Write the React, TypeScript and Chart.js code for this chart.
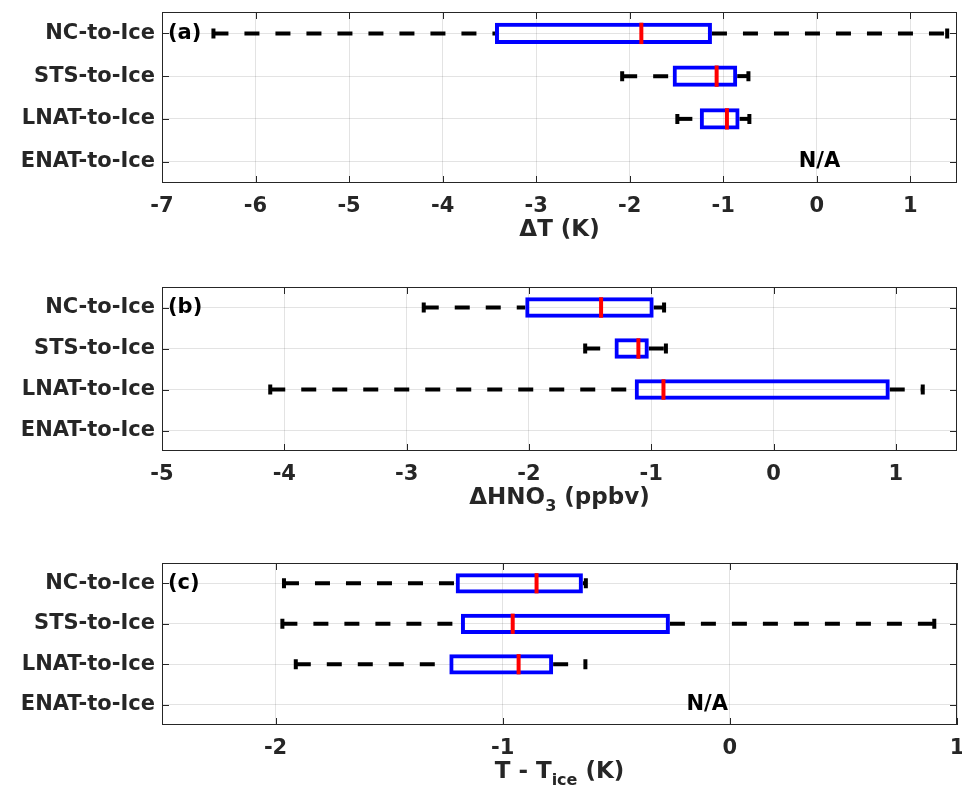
import React, { useEffect, useRef } from 'react';
import { Chart, registerables } from 'chart.js';

Chart.register(...registerables);

const categories = ['NC-to-Ice', 'STS-to-Ice', 'LNAT-to-Ice', 'ENAT-to-Ice'];

// (a) ΔT (K)
const dtMin = [-6.45, -2.08, -1.49, null];
const dtQ1 = [-3.44, -1.54, -1.25, null];
const dtMedian = [-1.875, -1.07, -0.96, null];
const dtQ3 = [-1.12, -0.85, -0.825, null];
const dtMax = [1.395, -0.73, -0.72, null];

// (b) ΔHNO3 (ppbv)
const hno3Min = [-2.86, -1.54, -4.115, null];
const hno3Q1 = [-2.03, -1.3, -1.135, null];
const hno3Median = [-1.41, -1.105, -0.9, null];
const hno3Q3 = [-0.98, -1.02, 0.95, null];
const hno3Max = [-0.895, -0.88, 1.22, null];

// (c) T - Tice (K)
const tiMin = [-1.963, -1.97, -1.911, null];
const tiQ1 = [-1.207, -1.184, -1.235, null];
const tiMedian = [-0.851, -0.956, -0.93, null];
const tiQ3 = [-0.647, -0.264, -0.778, null];
const tiMax = [-0.634, 0.9, -0.636, null];

const FONT = '"DejaVu Sans", sans-serif';
const TEXT = '#262626';

type TitlePart = { text: string; sub?: boolean };

type Panel = {
  id: string;
  top: number;
  height: number;
  padTop: number;
  axisHeight: number;
  xMin: number;
  xMax: number;
  mins: (number | null)[];
  q1: (number | null)[];
  medians: (number | null)[];
  q3: (number | null)[];
  maxs: (number | null)[];
  tag: string;
  naAt: number | null;
  title: TitlePart[];
};

const panels: Panel[] = [
  {
    id: 'a', top: 0, height: 262, padTop: 12, axisHeight: 79,
    xMin: -7, xMax: 1.5,
    mins: dtMin, q1: dtQ1, medians: dtMedian, q3: dtQ3, maxs: dtMax,
    tag: '(a)', naAt: 0.03,
    title: [{ text: '\u0394T (K)' }],
  },
  {
    id: 'b', top: 262, height: 273, padTop: 25, axisHeight: 84,
    xMin: -5, xMax: 1.5,
    mins: hno3Min, q1: hno3Q1, medians: hno3Median, q3: hno3Q3, maxs: hno3Max,
    tag: '(b)', naAt: null,
    title: [{ text: '\u0394HNO' }, { text: '3', sub: true }, { text: ' (ppbv)' }],
  },
  {
    id: 'c', top: 535, height: 258, padTop: 28, axisHeight: 68,
    xMin: -2.5, xMax: 1,
    mins: tiMin, q1: tiQ1, medians: tiMedian, q3: tiQ3, maxs: tiMax,
    tag: '(c)', naAt: -0.1,
    title: [{ text: 'T - T' }, { text: 'ice', sub: true }, { text: ' (K)' }],
  },
];

function makeDecor(p: Panel) {
  return {
    id: 'boxDecor' + p.id,
    beforeDatasetsDraw(chart: any) {
      const { ctx } = chart;
      const xs = chart.scales.x;
      const ys = chart.scales.y;
      ctx.save();
      // whiskers: dashed lines from box edges to the extremes, with end caps
      ctx.strokeStyle = '#000';
      ctx.lineWidth = 4;
      ctx.lineCap = 'butt';
      p.mins.forEach((mn, i) => {
        if (mn == null) return;
        const y = ys.getPixelForValue(i);
        const pMin = xs.getPixelForValue(mn);
        const pQ1 = xs.getPixelForValue(p.q1[i] as number);
        const pQ3 = xs.getPixelForValue(p.q3[i] as number);
        const pMax = xs.getPixelForValue(p.maxs[i] as number);
        ctx.setLineDash([15, 16]);
        ctx.beginPath();
        ctx.moveTo(pMin, y);
        ctx.lineTo(pQ1, y);
        ctx.stroke();
        ctx.beginPath();
        ctx.moveTo(pQ3, y);
        ctx.lineTo(pMax, y);
        ctx.stroke();
        ctx.setLineDash([]);
        ctx.beginPath();
        ctx.moveTo(pMin, y - 5);
        ctx.lineTo(pMin, y + 5);
        ctx.moveTo(pMax, y - 5);
        ctx.lineTo(pMax, y + 5);
        ctx.stroke();
      });
      ctx.restore();
    },
    afterDatasetsDraw(chart: any) {
      const { ctx, chartArea } = chart;
      const xs = chart.scales.x;
      const ys = chart.scales.y;
      const meta = chart.getDatasetMeta(0);
      ctx.save();
      // medians
      ctx.strokeStyle = '#ff0000';
      ctx.lineWidth = 4;
      p.medians.forEach((m, i) => {
        if (m == null) return;
        const bar = meta.data[i] as any;
        const y = ys.getPixelForValue(i);
        const h = bar && bar.height ? bar.height : 21;
        const x = xs.getPixelForValue(m);
        ctx.beginPath();
        ctx.moveTo(x, y - h / 2);
        ctx.lineTo(x, y + h / 2);
        ctx.stroke();
      });

      // frame and inward tick marks
      ctx.strokeStyle = TEXT;
      ctx.lineWidth = 1;
      ctx.strokeRect(chartArea.left + 0.5, chartArea.top + 0.5,
        chartArea.right - chartArea.left - 1, chartArea.bottom - chartArea.top - 1);
      ctx.beginPath();
      categories.forEach((_, i) => {
        const y = Math.round(ys.getPixelForValue(i)) + 0.5;
        ctx.moveTo(chartArea.left, y);
        ctx.lineTo(chartArea.left + 7, y);
        ctx.moveTo(chartArea.right, y);
        ctx.lineTo(chartArea.right - 7, y);
      });
      xs.ticks.forEach((t: any) => {
        const x = Math.round(xs.getPixelForValue(t.value)) + 0.5;
        ctx.moveTo(x, chartArea.bottom);
        ctx.lineTo(x, chartArea.bottom - 7);
        ctx.moveTo(x, chartArea.top);
        ctx.lineTo(x, chartArea.top + 7);
      });
      ctx.stroke();

      // panel tag and N/A note
      ctx.fillStyle = '#000';
      ctx.font = `bold 21px ${FONT}`;
      ctx.textBaseline = 'middle';
      ctx.textAlign = 'left';
      ctx.fillText(p.tag, chartArea.left + 6, ys.getPixelForValue(0));
      if (p.naAt != null) {
        ctx.textAlign = 'center';
        ctx.fillText('N/A', xs.getPixelForValue(p.naAt), ys.getPixelForValue(3));
      }

      // x-axis title with optional subscript
      const main = `bold 23px ${FONT}`;
      const sub = `bold 16px ${FONT}`;
      let total = 0;
      const widths = p.title.map((part) => {
        ctx.font = part.sub ? sub : main;
        const w = ctx.measureText(part.text).width;
        total += w;
        return w;
      });
      let x = (chartArea.left + chartArea.right) / 2 - total / 2;
      const ty = chartArea.bottom + 47;
      ctx.fillStyle = TEXT;
      ctx.textAlign = 'left';
      p.title.forEach((part, k) => {
        ctx.font = part.sub ? sub : main;
        ctx.fillText(part.text, x, part.sub ? ty + 9 : ty);
        x += widths[k];
      });
      ctx.restore();
    },
  };
}

function PanelChart({ p }: { p: Panel }) {
  const ref = useRef<HTMLCanvasElement | null>(null);
  useEffect(() => {
    if (!ref.current) return;
    const chart = new Chart(ref.current, {
      type: 'bar',
      data: {
        labels: categories,
        datasets: [
          {
            data: categories.map((_, i) =>
              p.q1[i] == null ? null : [p.q1[i], p.q3[i]]) as any,
            borderColor: '#0000ff',
            backgroundColor: 'rgba(0,0,0,0)',
            borderWidth: 4,
            borderSkipped: false,
            barPercentage: 0.5,
            categoryPercentage: 1,
          },
        ],
      },
      options: {
        indexAxis: 'y',
        responsive: false,
        animation: false,
        devicePixelRatio: 1,
        layout: { autoPadding: false, padding: { top: p.padTop, left: 0, right: 5, bottom: 0 } },
        plugins: { legend: { display: false }, tooltip: { enabled: false } },
        scales: {
          x: {
            type: 'linear',
            min: p.xMin,
            max: p.xMax,
            border: { display: false },
            grid: { color: 'rgba(38,38,38,0.13)', drawTicks: false },
            ticks: {
              stepSize: 1,
              includeBounds: false,
              padding: 11,
              color: TEXT,
              font: { family: FONT, size: 21, weight: 'bold' },
            },
            afterFit: (s: any) => {
              s.height = p.axisHeight;
              s.paddingLeft = 0;
              s.paddingRight = 0;
              s.paddingTop = 0;
              s.paddingBottom = 0;
            },
          },
          y: {
            type: 'category',
            offset: true,
            border: { display: false },
            grid: { color: 'rgba(38,38,38,0.13)', drawTicks: false, offset: false },
            ticks: {
              padding: 7,
              color: TEXT,
              font: { family: FONT, size: 21, weight: 'bold' },
            },
            afterFit: (s: any) => {
              s.width = 162;
              s.paddingLeft = 0;
              s.paddingRight = 0;
              s.paddingTop = 0;
              s.paddingBottom = 0;
            },
          },
        },
      } as any,
      plugins: [makeDecor(p)],
    });
    return () => chart.destroy();
  }, [p]);
  return (
    <div style={{ position: 'absolute', left: 0, top: p.top, width: 962, height: p.height }}>
      <canvas ref={ref} width={962} height={p.height} style={{ width: 962, height: p.height, display: 'block' }} />
    </div>
  );
}

export default function App() {
  return (
    <div style={{ position: 'fixed', left: 0, top: 0, width: 962, height: 793, background: '#fff', overflow: 'hidden' }}>
      {panels.map((p) => (
        <PanelChart key={p.id} p={p} />
      ))}
    </div>
  );
}
